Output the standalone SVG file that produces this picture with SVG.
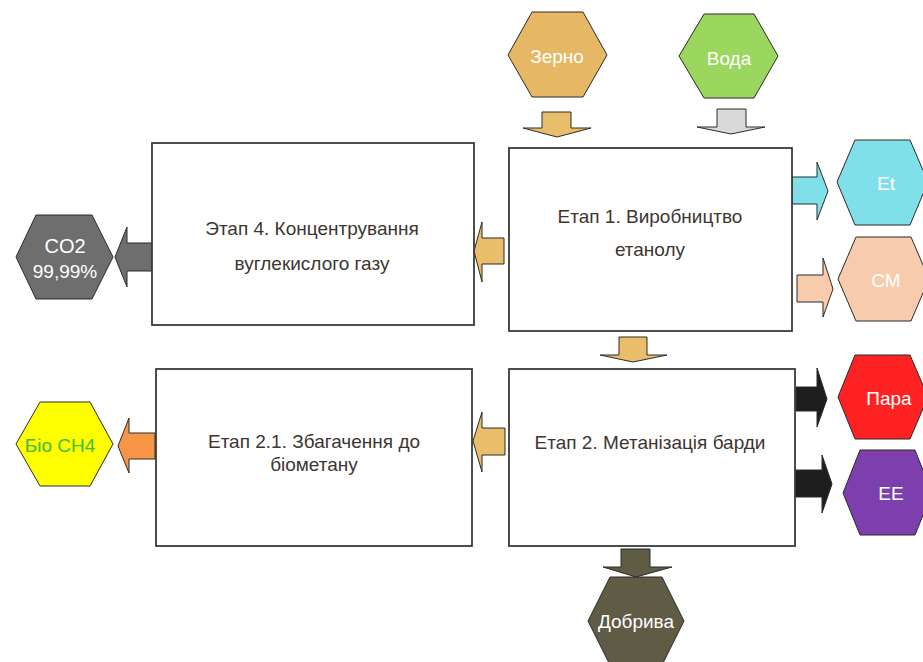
<svg xmlns="http://www.w3.org/2000/svg" width="923" height="662" viewBox="0 0 923 662">
<style>
.box{fill:#fff;stroke:#3a3a3a;stroke-width:1.8}
.hex{stroke:#2a2a2a;stroke-width:1}
.arr{stroke:#2a2a2a;stroke-width:1;stroke-linejoin:miter}
.bt{font-family:"Liberation Sans",Arial,sans-serif;font-size:19px;fill:#3d3630;text-anchor:middle}
.ht{font-family:"Liberation Sans",Arial,sans-serif;font-size:19px;fill:#fff;text-anchor:middle;dominant-baseline:central}
</style>
<rect width="923" height="662" fill="#fff"/>
<g id="connectors">
<polygon class="arr" fill="#E8BE6A" points="542,112 571,112 571,128 591,128 557,137 523,128 542,128"/>
<polygon class="arr" fill="#D9D9D9" points="717,109 746,109 746,127 765,127 731,134 697,127 717,127"/>
<polygon class="arr" fill="#E8BE6A" points="619,337 647,337 647,355 667,355 633,362 600,355 619,355"/>
<polygon class="arr" fill="#5F5B45" points="621,549 650,549 650,567 672,567 636,577 603,567 621,567"/>
<polygon class="arr" fill="#E8BE6A" points="504,238 504,264 482,264 482,282 474,251 482,222 482,238"/>
<polygon class="arr" fill="#E8BE6A" points="505,428 505,455 482,455 482,472 473,441 482,412 482,428"/>
<polygon class="arr" fill="#6E6E6E" points="152,243 152,271 127,271 127,287 115,257 127,227 127,243"/>
<polygon class="arr" fill="#F79646" points="155,433 155,459 129,459 129,473 118,446 129,418 129,433"/>
<polygon class="arr" fill="#7FE0EA" points="792,177 817,177 817,162 828,191 817,220 817,204 792,204"/>
<polygon class="arr" fill="#F8CBAD" points="797,275 823,275 823,258 833,289 823,317 823,302 797,302"/>
<polygon class="arr" fill="#1E1E1E" points="796,387 817,387 817,368 827,399 817,427 817,411 796,411"/>
<polygon class="arr" fill="#1E1E1E" points="792,470 822,470 822,455 832,484 822,513 822,497 792,497"/>
</g>
<g id="etap4">
<rect class="box" x="152" y="143" width="322" height="182"/>
<text class="bt" x="312" y="235">Этап 4. Концентрування</text>
<text class="bt" x="312" y="270">вуглекислого газу</text>
</g>
<g id="etap1">
<rect class="box" x="509" y="148" width="283" height="183"/>
<text class="bt" x="650" y="223">Етап 1. Виробництво</text>
<text class="bt" x="650" y="256">етанолу</text>
</g>
<g id="etap21">
<rect class="box" x="156" y="369" width="316" height="177"/>
<text class="bt" x="314" y="448">Етап 2.1. Збагачення до</text>
<text class="bt" x="314" y="471">біометану</text>
</g>
<g id="etap2">
<rect class="box" x="509" y="369" width="286" height="177"/>
<text class="bt" x="650" y="449">Етап 2. Метанізація барди</text>
</g>
<g id="zerno">
<polygon class="hex" fill="#E6B865" points="508,55 532,12 583,12 607,55 583,97 532,97"/>
<text class="ht" x="557" y="56">Зерно</text>
</g>
<g id="voda">
<polygon class="hex" fill="#9BD65E" points="679,56 704,14 754,14 778,56 754,98 704,98"/>
<text class="ht" x="729" y="58">Вода</text>
</g>
<g id="et">
<polygon class="hex" fill="#7FE0EA" points="837,182 855,140 910,140 928,182 910,225 855,225"/>
<text class="ht" x="886" y="183">Et</text>
</g>
<g id="cm">
<polygon class="hex" fill="#F8CBAD" points="838,279 856,237 911,237 929,279 911,321 856,321"/>
<text class="ht" x="886" y="280">СМ</text>
</g>
<g id="para">
<polygon class="hex" fill="#FF2222" points="838,397 855,355 910,355 928,397 910,439 855,439"/>
<text class="ht" x="889" y="398">Пара</text>
</g>
<g id="ee">
<polygon class="hex" fill="#7D3FAE" points="843,493 860,450 915,450 932,493 915,535 860,535"/>
<text class="ht" x="891" y="493">ЕЕ</text>
</g>
<g id="co2">
<polygon class="hex" fill="#6E6E6E" points="16,257 36,215 92,215 113,257 92,299 36,299"/>
<text class="ht" x="65" y="246" style="font-size:20px">CO2</text>
<text class="ht" x="65" y="271">99,99%</text>
</g>
<g id="bioch4">
<polygon class="hex" fill="#FFFF00" points="16,444 40,402 90,402 113,444 90,486 40,486"/>
<text class="ht" x="60" y="445" style="fill:#3DBB3D">Біо СН4</text>
</g>
<g id="dobryva">
<polygon class="hex" fill="#5F5B45" points="588,621 610,577 662,577 684,621 662,665 610,665"/>
<text class="ht" x="636" y="621">Добрива</text>
</g>
</svg>
